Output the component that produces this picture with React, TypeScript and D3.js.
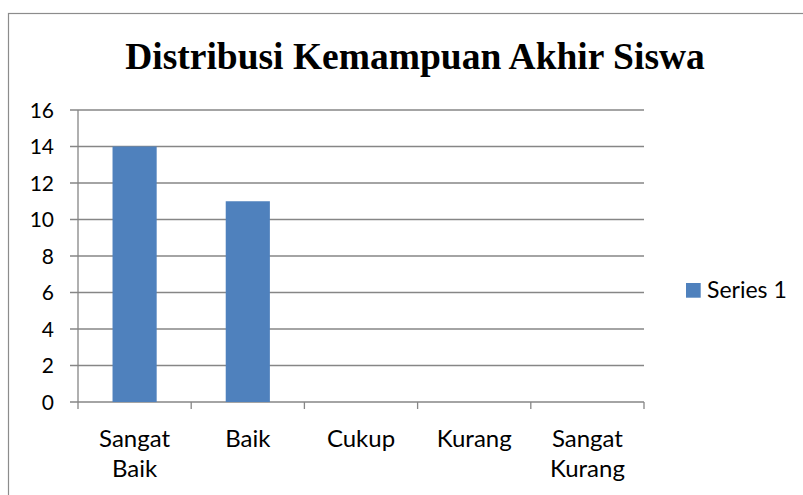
import React from "react";
import * as d3 from "d3";

const categories: string[][] = [["Sangat", "Baik"], ["Baik"], ["Cukup"], ["Kurang"], ["Sangat", "Kurang"]];
const seriesValues: number[] = [14, 11, 0, 0, 0];
const yTicks: number[] = [0, 2, 4, 6, 8, 10, 12, 14, 16];
const seriesName = "Series 1";
const title = "Distribusi Kemampuan Akhir Siswa";

export default function App() {
  const W = 803, H = 495;
  const left = 78, right = 644, top = 110, bottom = 402;
  const keys = categories.map((_, i) => String(i));
  const x = d3.scaleBand().domain(keys).range([left, right]).paddingInner(0.61).paddingOuter(0.305);
  const xo = d3.scaleBand().domain(keys).range([left, right]);
  const y = d3.scaleLinear().domain([0, 16]).range([bottom, top]);
  const grid = "#868686";
  const font = "Lato, 'Open Sans', sans-serif";
  return (
    <svg width={W} height={H} style={{ position: "absolute", left: 0, top: 0, background: "#fff" }}>
      <rect x={8.5} y={13.5} width={W + 10} height={H + 10} fill="#fff" stroke="#8c8c8c" strokeWidth={1.2} />
      <text x={415} y={69} textAnchor="middle" fontFamily="'Liberation Serif', 'Times New Roman', serif" fontWeight="bold" fontSize={37.5}>{title}</text>
      {yTicks.map((t) => (
        <g key={t}>
          <line x1={70} x2={right} y1={y(t)} y2={y(t)} stroke={grid} strokeWidth={1.3} />
          <text x={54} y={y(t) + 7.5} textAnchor="end" fontFamily={font} fontSize={21} fill="#000">{t}</text>
        </g>
      ))}
      <line x1={left} x2={left} y1={top} y2={bottom} stroke={grid} strokeWidth={1.3} />
      {keys.map((k) => (
        <line key={"t" + k} x1={xo(k)!} x2={xo(k)!} y1={bottom} y2={bottom + 7} stroke={grid} strokeWidth={1.3} />
      ))}
      <line x1={right} x2={right} y1={bottom} y2={bottom + 7} stroke={grid} strokeWidth={1.3} />
      {seriesValues.map((v, i) => (
        <rect key={i} x={x(keys[i])!} y={y(v)} width={x.bandwidth()} height={y(0) - y(v)} fill="#4F81BD" />
      ))}
      {categories.map((lines, i) => (
        <text key={"c" + i} textAnchor="middle" fontFamily={font} fontSize={24} fill="#000">
          {lines.map((l, j) => (
            <tspan key={j} x={xo(keys[i])! + xo.bandwidth() / 2} y={447 + j * 30}>{l}</tspan>
          ))}
        </text>
      ))}
      <rect x={686} y={283} width={14.7} height={14.7} fill="#4F81BD" />
      <text x={707} y={298} fontFamily={font} fontSize={23} fill="#000">{seriesName}</text>
    </svg>
  );
}
